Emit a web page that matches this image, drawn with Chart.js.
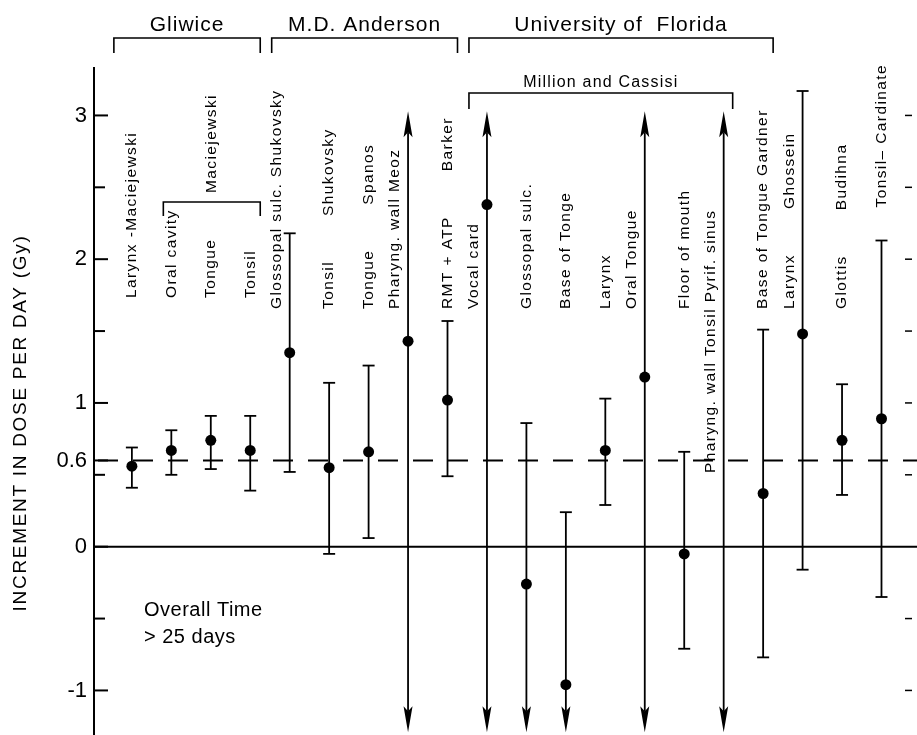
<!DOCTYPE html>
<html>
<head>
<meta charset="utf-8">
<title>Increment in dose per day</title>
<script src="https://cdn.jsdelivr.net/npm/chart.js@4.4.1/dist/chart.umd.min.js"></script>
<style>
    html, body { margin: 0; padding: 0; background: #fff; }
    canvas { display: block; }
</style>
</head>
<body>
<canvas id="doseChart" width="917" height="735"></canvas>
<script>
// one entry per study; second part (author) is set apart from the site name
const siteLabels = [
    ['Larynx -Maciejewski'],
    ['Oral cavity'],
    ['Tongue'],
    ['Tonsil'],
    ['Glossopal sulc. Shukovsky'],
    ['Tonsil', 'Shukovsky'],
    ['Tongue', 'Spanos'],
    ['Pharyng. wall Meoz'],
    ['RMT + ATP', 'Barker'],
    ['Vocal card'],
    ['Glossopal sulc.'],
    ['Base of Tonge'],
    ['Larynx'],
    ['Oral Tongue'],
    ['Floor of mouth'],
    ['Pharyng. wall Tonsil Pyrif. sinus'],
    ['Base of Tongue Gardner'],
    ['Larynx', 'Ghossein'],
    ['Glottis', 'Budihna'],
    ['Tonsil\u2013 Cardinate']
];

// null mean = no point; null bound = open interval (arrow)
const meanValues  = [0.56, 0.67, 0.74, 0.67, 1.35, 0.55, 0.66, 1.43, 1.02, 2.38, -0.26, -0.96, 0.67, 1.18, -0.05, null, 0.37, 1.48, 0.74, 0.89];
const lowerValues = [0.41, 0.50, 0.54, 0.39, 0.52, -0.05, 0.06, null, 0.49, null, null, null, 0.29, null, -0.71, null, -0.77, -0.16, 0.36, -0.35];
const upperValues = [0.69, 0.81, 0.91, 0.91, 2.18, 1.14, 1.26, null, 1.57, null, 0.86, 0.24, 1.03, null, 0.66, null, 1.51, 3.17, 1.13, 2.13];

const yTickLabels = [-1, 0, 0.6, 1, 2, 3];
const yMinorTicks = [-0.5, 0.5, 1.5, 2.5];
const rightTicks = [-1, -0.5, 0.5, 1, 1.5, 2, 2.5, 3];
const referenceLevel = 0.6;

const groupNames = ['Gliwice', 'M.D. Anderson', 'University of  Florida'];
const groupSpans = [[0, 3], [4, 8], [9, 16]];
const subGroupNames = ['Million and Cassisi'];
const subGroupSpans = [[9, 15]];
const authorNames = ['Maciejewski'];
const authorSpans = [[1, 3]];

const noteLines = ['Overall Time', '> 25 days'];

const FONT = "'Liberation Sans', Arial, sans-serif";
const ARROW_TOP = 3.03;
const ARROW_BOTTOM = -1.29;
const labelAbove = new Set([19]);

function drawArrow(ctx, x, yTip, dir) {
    ctx.beginPath();
    ctx.moveTo(x, yTip);
    ctx.lineTo(x - 4.5, yTip + dir * 26);
    ctx.lineTo(x, yTip + dir * 21);
    ctx.lineTo(x + 4.5, yTip + dir * 26);
    ctx.closePath();
    ctx.fill();
}

function drawBracket(ctx, x1, x2, y, drop) {
    ctx.beginPath();
    ctx.moveTo(x1, y + drop);
    ctx.lineTo(x1, y);
    ctx.lineTo(x2, y);
    ctx.lineTo(x2, y + drop);
    ctx.stroke();
}

function upText(ctx, str, x, yBottom, size, spacing) {
    ctx.save();
    ctx.translate(x, yBottom);
    ctx.rotate(-Math.PI / 2);
    ctx.font = size + 'px ' + FONT;
    ctx.letterSpacing = spacing + 'px';
    ctx.textAlign = 'left';
    ctx.textBaseline = 'middle';
    ctx.fillText(str, 0, 0);
    const w = ctx.measureText(str).width;
    ctx.restore();
    return w;
}

const annotations = {
    id: 'annotations',
    beforeDatasetsDraw(chart) {
        const ctx = chart.ctx;
        const xs = chart.scales.x;
        const ys = chart.scales.y;
        const area = chart.chartArea;
        const px = i => xs.getPixelForValue(i + 1);

        ctx.save();
        ctx.strokeStyle = '#000';
        ctx.fillStyle = '#000';

        // zero line
        ctx.lineWidth = 2;
        ctx.beginPath();
        ctx.moveTo(area.left, ys.getPixelForValue(0));
        ctx.lineTo(area.right, ys.getPixelForValue(0));
        ctx.stroke();

        // reference level, dashed
        ctx.setLineDash([20, 15]);
        ctx.beginPath();
        ctx.moveTo(area.left + 4, ys.getPixelForValue(referenceLevel));
        ctx.lineTo(area.right, ys.getPixelForValue(referenceLevel));
        ctx.stroke();
        ctx.setLineDash([]);

        // inward ticks, left axis
        yTickLabels.forEach(v => {
            const y = ys.getPixelForValue(v);
            ctx.beginPath();
            ctx.moveTo(area.left, y);
            ctx.lineTo(area.left + 14, y);
            ctx.stroke();
        });
        yMinorTicks.forEach(v => {
            const y = ys.getPixelForValue(v);
            ctx.beginPath();
            ctx.moveTo(area.left, y);
            ctx.lineTo(area.left + 11, y);
            ctx.stroke();
        });
        // ticks of the right axis (axis itself is off the page)
        ctx.lineWidth = 1.5;
        rightTicks.forEach(v => {
            const y = ys.getPixelForValue(v);
            ctx.beginPath();
            ctx.moveTo(area.right - 12, y);
            ctx.lineTo(area.right - 5, y);
            ctx.stroke();
        });

        // error bars
        ctx.lineWidth = 1.8;
        meanValues.forEach((m, i) => {
            const x = px(i);
            const lo = lowerValues[i];
            const hi = upperValues[i];
            const yTop = hi === null ? ys.getPixelForValue(ARROW_TOP) : ys.getPixelForValue(hi);
            const yBot = lo === null ? ys.getPixelForValue(ARROW_BOTTOM) : ys.getPixelForValue(lo);
            ctx.beginPath();
            ctx.moveTo(x, hi === null ? yTop + 21 : yTop);
            ctx.lineTo(x, lo === null ? yBot - 21 : yBot);
            ctx.stroke();
            if (hi === null) {
                drawArrow(ctx, x, yTop, 1);
            } else {
                ctx.beginPath();
                ctx.moveTo(x - 6, yTop);
                ctx.lineTo(x + 6, yTop);
                ctx.stroke();
            }
            if (lo === null) {
                drawArrow(ctx, x, yBot, -1);
            } else {
                ctx.beginPath();
                ctx.moveTo(x - 6, yBot);
                ctx.lineTo(x + 6, yBot);
                ctx.stroke();
            }
        });

        // site labels, vertical
        siteLabels.forEach((parts, i) => {
            const x = px(i);
            const hi = upperValues[i];
            let lx = x;
            let bottom = i < 4 ? 298 : 309;
            if (labelAbove.has(i)) {
                bottom = ys.getPixelForValue(hi) - 33;
            } else if (hi === null || hi > 1.75) {
                lx = x - 13;
            }
            if (parts[0].length > 26) bottom = 473;
            const w = upText(ctx, parts[0], lx, bottom, 15.5, 1.4);
            if (parts[1]) upText(ctx, parts[1], lx, bottom - w - 45, 15.5, 1.4);
        });

        // brackets and group names
        ctx.lineWidth = 1.6;
        ctx.textAlign = 'center';
        ctx.textBaseline = 'alphabetic';
        groupNames.forEach((name, g) => {
            const x1 = px(groupSpans[g][0]) - 18;
            const x2 = px(groupSpans[g][1]) + 10;
            drawBracket(ctx, x1, x2, 38, 15);
            ctx.font = '21px ' + FONT;
            ctx.letterSpacing = '1px';
            ctx.fillText(name, (x1 + x2) / 2, 31);
        });
        subGroupNames.forEach((name, g) => {
            const x1 = px(subGroupSpans[g][0]) - 18;
            const x2 = px(subGroupSpans[g][1]) + 9;
            drawBracket(ctx, x1, x2, 93, 16);
            ctx.font = '16px ' + FONT;
            ctx.letterSpacing = '1.2px';
            ctx.fillText(name, (x1 + x2) / 2, 87);
        });
        authorNames.forEach((name, g) => {
            const x1 = px(authorSpans[g][0]) - 8;
            const x2 = px(authorSpans[g][1]) + 10;
            drawBracket(ctx, x1, x2, 202, 14);
            upText(ctx, name, (x1 + x2) / 2, 193, 15.5, 1.4);
        });

        // note
        ctx.font = '20px ' + FONT;
        ctx.letterSpacing = '0.5px';
        ctx.textAlign = 'left';
        noteLines.forEach((line, k) => {
            ctx.fillText(line, 144, 616 + k * 27);
        });

        // y axis title
        ctx.translate(21, 423);
        ctx.rotate(-Math.PI / 2);
        ctx.font = '19px ' + FONT;
        ctx.letterSpacing = '1.7px';
        ctx.textAlign = 'center';
        ctx.textBaseline = 'middle';
        ctx.fillText('INCREMENT IN DOSE PER DAY (Gy)', 0, 0);

        ctx.restore();
    }
};

const points = meanValues.map((v, i) => ({ x: i + 1, y: v }));

new Chart(document.getElementById('doseChart'), {
    type: 'scatter',
    data: {
        datasets: [{
            data: points,
            pointRadius: 5.5,
            pointHoverRadius: 5.5,
            backgroundColor: '#000',
            borderWidth: 0
        }]
    },
    options: {
        responsive: false,
        animation: false,
        devicePixelRatio: 1,
        layout: { autoPadding: false, padding: { top: 68, right: 0, bottom: 0, left: 0 } },
        plugins: {
            legend: { display: false },
            tooltip: { enabled: false }
        },
        scales: {
            x: {
                type: 'linear',
                display: false,
                min: 0.04,
                max: 20.9
            },
            y: {
                type: 'linear',
                min: -1.31,
                max: 3.33,
                afterFit(scale) {
                    scale.width = 94;
                    scale.paddingTop = 0;
                    scale.paddingBottom = 0;
                },
                afterBuildTicks(scale) {
                    scale.ticks = yTickLabels.map(v => ({ value: v }));
                },
                grid: { display: false, drawTicks: false },
                border: { display: true, color: '#000', width: 2 },
                ticks: {
                    padding: 7,
                    color: '#000',
                    font: { family: FONT, size: 22 },
                    callback: v => String(v)
                }
            }
        }
    },
    plugins: [annotations]
});
</script>
</body>
</html>
